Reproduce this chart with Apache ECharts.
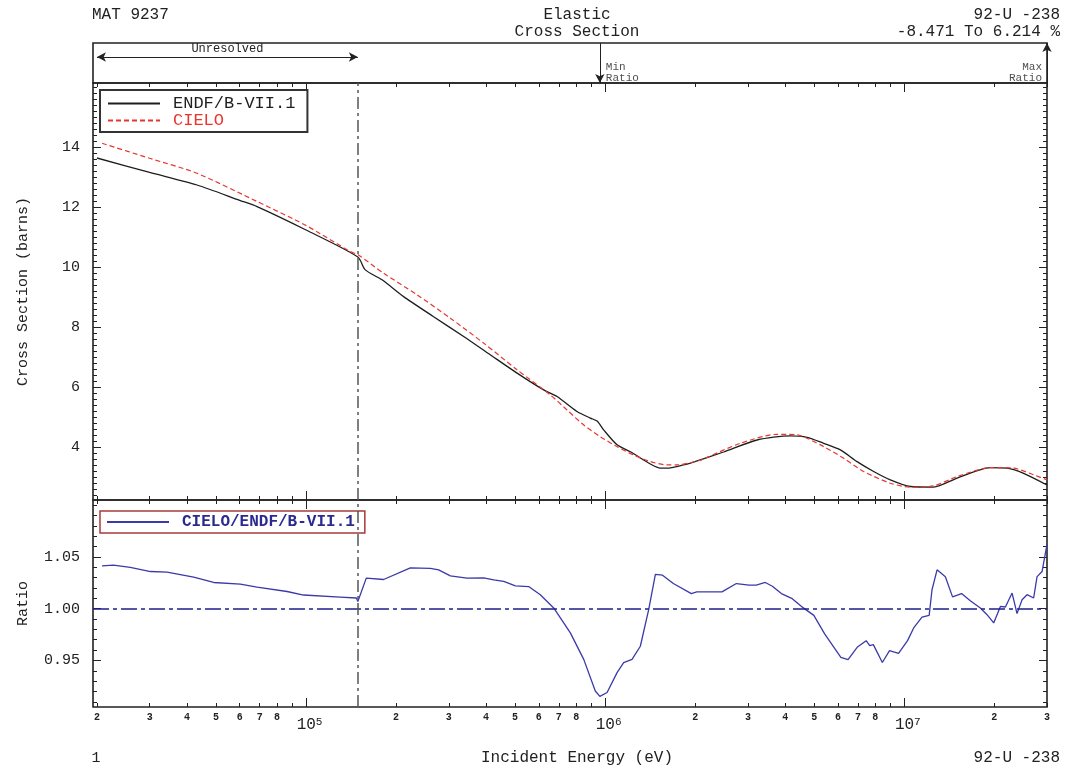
<!DOCTYPE html>
<html><head><meta charset="utf-8">
<script src="https://cdn.jsdelivr.net/npm/echarts@6/dist/echarts.min.js"></script>
<style>html,body{margin:0;padding:0;background:#fff}#c{width:1065px;height:770px}</style>
</head><body><div id="c"></div>
<script>
// ---------------- data ----------------
const ENDF_E  = [2.0e4, 3.0e4, 4.32e4, 6.0e4, 6.86e4, 1.0e5, 1.49e5, 1.578e5, 1.795e5, 2.12e5, 2.67e5, 3.365e5, 4.13e5, 5.076e5, 6.23e5, 6.905e5, 8.05e5, 8.92e5, 9.4e5, 9.88e5, 1.096e6, 1.214e6, 1.416e6, 1.529e6, 1.61e6, 1.83e6, 1.927e6, 2.489e6, 3.22e6, 4.16e6, 4.73e6, 5.377e6, 6.114e6, 6.953e6, 7.9e6, 8.98e6, 1.048e7, 1.254e7, 1.502e7, 1.94e7, 2.206e7, 2.506e7, 3.0e7];
const ENDF_XS = [13.63, 13.15, 12.73, 12.22, 12.01, 11.23, 10.33, 9.9, 9.57, 9.01, 8.34, 7.68, 7.07, 6.46, 5.9, 5.68, 5.18, 4.96, 4.86, 4.57, 4.07, 3.84, 3.43, 3.29, 3.29, 3.4, 3.46, 3.83, 4.23, 4.37, 4.32, 4.12, 3.9, 3.51, 3.18, 2.9, 2.68, 2.66, 2.96, 3.31, 3.29, 3.12, 2.73];

const CIELO_E  = [2.08e4, 3.0e4, 4.32e4, 6.86e4, 1.0e5, 1.407e5, 1.49e5, 1.817e5, 2.35e5, 3.037e5, 3.925e5, 5.076e5, 6.56e5, 7.46e5, 8.48e5, 9.63e5, 1.096e6, 1.245e6, 1.416e6, 1.61e6, 1.74e6, 2.102e6, 2.19e6, 2.83e6, 3.755e6, 4.38e6, 5.377e6, 6.272e6, 7.314e6, 8.98e6, 1.048e7, 1.254e7, 1.502e7, 1.94e7, 2.321e7, 2.707e7, 3.0e7];
const CIELO_XS = [14.12, 13.62, 13.12, 12.18, 11.38, 10.51, 10.41, 9.79, 9.07, 8.29, 7.46, 6.57, 5.73, 5.23, 4.73, 4.34, 4.01, 3.73, 3.51, 3.4, 3.4, 3.57, 3.65, 4.12, 4.42, 4.40, 4.01, 3.62, 3.18, 2.79, 2.66, 2.70, 3.01, 3.31, 3.29, 3.07, 2.90];

const RATIO_E = [2.08e4, 2.27e4, 2.585e4, 3.02e4, 3.43e4, 4.21e4, 4.91e4, 6.03e4, 6.86e4, 8.64e4, 9.81e4, 1.30e5, 1.473e5, 1.49e5, 1.59e5, 1.817e5, 2.232e5, 2.603e5, 2.776e5, 3.037e5, 3.453e5, 3.925e5, 4.24e5, 4.58e5, 5.01e5, 5.55e5, 6.07e5, 6.73e5, 7.65e5, 8.48e5, 9.27e5, 9.6e5, 1.015e6, 1.096e6, 1.153e6, 1.23e6, 1.311e6, 1.398e6, 1.472e6, 1.555e6, 1.69e6, 1.942e6, 2.024e6, 2.458e6, 2.746e6, 3.027e6, 3.2e6, 3.43e6, 3.623e6, 3.882e6, 4.222e6, 4.587e6, 4.985e6, 5.417e6, 6.137e6, 6.486e6, 6.957e6, 7.456e6, 7.666e6, 7.88e6, 8.446e6, 8.926e6, 9.568e6, 1.0254e7, 1.075e7, 1.146e7, 1.211e7, 1.238e7, 1.287e7, 1.372e7, 1.45e7, 1.554e7, 1.666e7, 1.796e7, 1.891e7, 1.99e7, 2.096e7, 2.178e7, 2.293e7, 2.382e7, 2.476e7, 2.573e7, 2.707e7, 2.779e7, 2.888e7, 3.0e7];
const RATIO_V = [1.0413, 1.042, 1.040, 1.0359, 1.0353, 1.0305, 1.0253, 1.0237, 1.0209, 1.0166, 1.0132, 1.0112, 1.0103, 1.007, 1.0295, 1.0282, 1.0394, 1.039, 1.0375, 1.0317, 1.0295, 1.0298, 1.0279, 1.0263, 1.0221, 1.0214, 1.0135, 1.0007, 0.9766, 0.951, 0.9205, 0.9153, 0.919, 0.9382, 0.9478, 0.951, 0.9637, 0.999, 1.0331, 1.0324, 1.0243, 1.0146, 1.0162, 1.0162, 1.0243, 1.0227, 1.0227, 1.0253, 1.0217, 1.0146, 1.0097, 1.001, 0.9935, 0.9757, 0.953, 0.9507, 0.9627, 0.9691, 0.9643, 0.9653, 0.948, 0.9594, 0.9568, 0.9691, 0.9814, 0.9919, 0.9935, 1.0183, 1.0375, 1.0308, 1.0114, 1.0146, 1.0074, 1.0007, 0.9942, 0.9862, 1.0022, 1.0016, 1.0151, 0.9952, 1.0087, 1.0135, 1.0103, 1.031, 1.0359, 1.0621];

const URR_RANGE = [2.0e4, 1.49e5];          // unresolved resonance range (eV)
const RATIO_REF = 1.0;

// tick labels
const X_DECADES = [4, 5, 6, 7];
const X_TICK_MANTISSAS = [1, 2, 3, 4, 5, 6, 7, 8, 9];
const X_LABEL_MANTISSAS = [2, 3, 4, 5, 6, 7, 8];
const XS_LABELS = [4, 6, 8, 10, 12, 14];
const RATIO_LABELS = [0.95, 1.00, 1.05];

// texts
const SERIES_NAMES = ['ENDF/B-VII.1', 'CIELO', 'CIELO/ENDF/B-VII.1'];
const TXT_MAT = 'MAT 9237';
const TXT_TITLE = ['Elastic', 'Cross Section'];
const TXT_NUCLIDE = '92-U -238';
const TXT_RANGE = '-8.471 To 6.214 %';
const TXT_XNAME = 'Incident Energy (eV)';
const TXT_YNAME = 'Cross Section (barns)';
const TXT_RNAME = 'Ratio';
const TXT_PAGE = '1';
const TXT_UNRES = 'Unresolved';
const TXT_MIN = 'Min\nRatio';
const TXT_MAX = 'Max\nRatio';

// ---------------- layout / style ----------------
const X_MIN = 1.94e4, X_MAX = 3.0e7;
const XS_MIN = 2.23, XS_MAX = 16.13;
const R_MIN = 0.905, R_MAX = 1.105;
const MONO = "'Liberation Mono', 'DejaVu Sans Mono', monospace";
const FRAME = '#222';
const C_ENDF = '#1e1e1e', C_CIELO = '#e8352e', C_RATIO = '#3a3aa8';
const DASHDOT = [12, 4, 3, 4];

const zip = (a, b) => a.map((v, i) => [v, b[i]]);

// tick value lists built from the label arrays
const inX = v => v >= X_MIN && v <= X_MAX * 1.0000001;
const xMinor = [], xMajor = [], xDigitLabels = [];
X_DECADES.forEach(k => {
  const p = Math.pow(10, k);
  X_TICK_MANTISSAS.forEach(m => { const v = m * p; if (!inX(v)) return; (m === 1 ? xMajor : xMinor).push(v); });
  X_LABEL_MANTISSAS.forEach(m => { const v = m * p; if (inX(v)) xDigitLabels.push(v); });
});
const yMinor = [];
for (let i = Math.ceil(XS_MIN / 0.2); i * 0.2 <= XS_MAX; i++) yMinor.push(+(i * 0.2).toFixed(1));
const rMinor = [];
for (let i = Math.ceil(R_MIN / 0.01); i * 0.01 <= R_MAX; i++) rMinor.push(+(i * 0.01).toFixed(2));

let iMin = 0, iMax = 0;
RATIO_V.forEach((v, i) => { if (v < RATIO_V[iMin]) iMin = i; if (v > RATIO_V[iMax]) iMax = i; });
const E_MIN_RATIO = RATIO_E[iMin], E_MAX_RATIO = RATIO_E[iMax];

// ---------------- axes ----------------
function xAx(grid, pos, tick, label) {
  return {
    type: 'log', logBase: 10, gridIndex: grid, position: pos, min: X_MIN, max: X_MAX,
    axisLine: { show: false, onZero: false }, splitLine: { show: false },
    minorTick: { show: false }, minorSplitLine: { show: false },
    axisTick: tick ? Object.assign({ show: true, inside: true, lineStyle: { color: FRAME, width: 1 } }, tick) : { show: false },
    axisLabel: label ? label : { show: false },
    axisPointer: { show: false }, silent: true
  };
}
function yAx(grid, pos, min, max, tick, label, name) {
  const a = {
    type: 'value', gridIndex: grid, position: pos, min: min, max: max,
    axisLine: { show: false, onZero: false }, splitLine: { show: false },
    minorTick: { show: false }, minorSplitLine: { show: false },
    axisTick: tick ? Object.assign({ show: true, inside: true, lineStyle: { color: FRAME, width: 1 } }, tick) : { show: false },
    axisLabel: label ? label : { show: false },
    axisPointer: { show: false }, silent: true
  };
  if (name) Object.assign(a, {
    name: name, nameLocation: 'middle', nameGap: 62, nameRotate: 90,
    nameTextStyle: { fontFamily: MONO, fontSize: 15, color: FRAME }
  });
  return a;
}
const digitLabel = {
  show: true, customValues: xDigitLabels, margin: 4, hideOverlap: false,
  formatter: v => String(Math.round(v / Math.pow(10, Math.floor(Math.log10(v) + 1e-9)))),
  fontFamily: MONO, fontSize: 10, fontWeight: 'bold', color: FRAME, lineHeight: 12
};
const decadeLabel = {
  show: true, customValues: xMajor, margin: 10, hideOverlap: false,
  formatter: v => '{p|10}{s|' + Math.round(Math.log10(v)) + '}',
  rich: {
    p: { fontFamily: MONO, fontSize: 16, lineHeight: 16, color: FRAME, padding: [5, 0, 0, 7], verticalAlign: 'bottom' },
    s: { fontFamily: MONO, fontSize: 11, lineHeight: 11, color: FRAME, verticalAlign: 'top' }
  }
};
const yLabel = (vals, fmt) => ({
  show: true, customValues: vals, margin: 13, hideOverlap: false,
  formatter: fmt, fontFamily: MONO, fontSize: 15, color: FRAME
});

const xAxes = [
  Object.assign(xAx(0, 'bottom', null, null), { show: false }),
  xAx(1, 'bottom', { length: 4, customValues: xMinor }),
  xAx(1, 'top', { length: 4, customValues: xMinor }),
  xAx(1, 'bottom', { length: 9, customValues: xMajor }),
  xAx(1, 'top', { length: 9, customValues: xMajor }),
  xAx(2, 'bottom', { length: 4, customValues: xMinor }, digitLabel),
  xAx(2, 'top', { length: 4, customValues: xMinor }),
  xAx(2, 'bottom', { length: 9, customValues: xMajor }, decadeLabel),
  xAx(2, 'top', { length: 9, customValues: xMajor })
];
const yAxes = [
  { type: 'value', gridIndex: 0, min: 0, max: 1, show: false },
  yAx(1, 'left', XS_MIN, XS_MAX, { length: 8, customValues: XS_LABELS }, yLabel(XS_LABELS, v => String(v)), TXT_YNAME),
  yAx(1, 'left', XS_MIN, XS_MAX, { length: 4, customValues: yMinor }),
  yAx(1, 'right', XS_MIN, XS_MAX, { length: 8, customValues: XS_LABELS }),
  yAx(1, 'right', XS_MIN, XS_MAX, { length: 4, customValues: yMinor }),
  yAx(2, 'left', R_MIN, R_MAX, { length: 8, customValues: RATIO_LABELS }, yLabel(RATIO_LABELS, v => v.toFixed(2)), TXT_RNAME),
  yAx(2, 'left', R_MIN, R_MAX, { length: 4, customValues: rMinor }),
  yAx(2, 'right', R_MIN, R_MAX, { length: 8, customValues: RATIO_LABELS }),
  yAx(2, 'right', R_MIN, R_MAX, { length: 4, customValues: rMinor })
];

const gridBase = { left: 93, right: 18, show: true, borderColor: FRAME, borderWidth: 1.6, backgroundColor: 'transparent', containLabel: false, outerBoundsMode: 'none' };
const grids = [
  Object.assign({ top: 43, height: 40 }, gridBase),
  Object.assign({ top: 83, height: 417 }, gridBase),
  Object.assign({ top: 500, height: 207 }, gridBase)
];

const annoLabel = { fontFamily: MONO, fontSize: 11, lineHeight: 11, color: FRAME };

const option = {
  animation: false,
  backgroundColor: '#fff',
  grid: grids,
  xAxis: xAxes,
  yAxis: yAxes,
  legend: [
    {
      data: [{ name: SERIES_NAMES[0], textStyle: { color: C_ENDF } }, { name: SERIES_NAMES[1], textStyle: { color: C_CIELO } }],
      orient: 'vertical', left: 100, top: 90, itemWidth: 52, itemHeight: 10, itemGap: 0,
      padding: [5, 12, 3, 7], borderColor: '#333', borderWidth: 2, borderRadius: 0, backgroundColor: '#fff',
      selectedMode: false, itemStyle: { opacity: 0 },
      textStyle: { fontFamily: MONO, fontSize: 17, lineHeight: 17, padding: [0, 0, 0, 8] }
    },
    {
      data: [{ name: SERIES_NAMES[2] }],
      orient: 'horizontal', left: 100, top: 511, itemWidth: 62, itemHeight: 10,
      padding: [2, 10, 2, 6], borderColor: '#a83a3a', borderWidth: 1.5, borderRadius: 0, backgroundColor: 'transparent',
      selectedMode: false, itemStyle: { opacity: 0 },
      textStyle: { fontFamily: MONO, fontSize: 16, lineHeight: 18, fontWeight: 'bold', color: '#2a2a90', padding: [0, 0, 0, 8] }
    }
  ],
  series: [
    {
      name: SERIES_NAMES[0], type: 'line', xAxisIndex: 1, yAxisIndex: 1, data: zip(ENDF_E, ENDF_XS),
      symbol: 'none', showSymbol: false, smooth: 0.25, z: 3,
      lineStyle: { color: C_ENDF, width: 1.3 }, itemStyle: { color: C_ENDF },
      markLine: {
        silent: true, symbol: 'none', label: { show: false },
        lineStyle: { color: '#555', width: 1.5, type: DASHDOT },
        data: [{ xAxis: URR_RANGE[1] }]
      }
    },
    {
      name: SERIES_NAMES[1], type: 'line', xAxisIndex: 1, yAxisIndex: 1, data: zip(CIELO_E, CIELO_XS),
      symbol: 'none', showSymbol: false, smooth: 0.25, z: 4,
      lineStyle: { color: C_CIELO, width: 1.2, type: [5, 3] }, itemStyle: { color: C_CIELO }
    },
    {
      name: SERIES_NAMES[2], type: 'line', xAxisIndex: 5, yAxisIndex: 5, data: zip(RATIO_E, RATIO_V),
      symbol: 'none', showSymbol: false, z: 4,
      lineStyle: { color: C_RATIO, width: 1.3 }, itemStyle: { color: C_RATIO },
      markLine: {
        silent: true, symbol: 'none', label: { show: false },
        data: [
          { yAxis: RATIO_REF, lineStyle: { color: '#1f1f8a', width: 1.5, type: [16, 4, 4, 4] } },
          { xAxis: URR_RANGE[1], lineStyle: { color: '#555', width: 1.5, type: DASHDOT } }
        ]
      }
    },
    {
      type: 'scatter', xAxisIndex: 0, yAxisIndex: 0, symbolSize: 0, silent: true, z: 5,
      data: [
        { value: [E_MIN_RATIO, 0.27], label: { show: true, position: 'right', distance: 6, formatter: TXT_MIN, align: 'left', ...annoLabel } },
        { value: [E_MAX_RATIO, 0.27], label: { show: true, position: 'left', distance: 5, formatter: TXT_MAX, align: 'right', ...annoLabel } }
      ],
      markLine: {
        silent: true, symbolSize: [7, 9],
        lineStyle: { color: FRAME, width: 1, type: 'solid' },
        label: { show: false },
        data: [
          [
            { coord: [URR_RANGE[0], 0.65], symbol: 'arrow', label: { show: true, position: 'insideMiddleTop', distance: 2, formatter: TXT_UNRES, fontFamily: MONO, fontSize: 12, color: FRAME } },
            { coord: [URR_RANGE[1], 0.65], symbol: 'arrow' }
          ],
          [
            { coord: [E_MIN_RATIO, 1], symbol: 'none' },
            { coord: [E_MIN_RATIO, 0], symbol: 'arrow' }
          ],
          [
            { coord: [E_MAX_RATIO, 0], symbol: 'none' },
            { coord: [E_MAX_RATIO, 1], symbol: 'arrow' }
          ]
        ]
      }
    }
  ],
  graphic: [
    { type: 'text', x: 92, y: 15, style: { text: TXT_MAT, fontFamily: MONO, fontSize: 16, fill: FRAME, align: 'left', verticalAlign: 'middle', textAlign: 'left', textVerticalAlign: 'middle' } },
    { type: 'text', x: 577, y: 15, style: { text: TXT_TITLE[0], fontFamily: MONO, fontSize: 16, fill: FRAME, align: 'center', verticalAlign: 'middle', textAlign: 'center', textVerticalAlign: 'middle' } },
    { type: 'text', x: 577, y: 32, style: { text: TXT_TITLE[1], fontFamily: MONO, fontSize: 16, fill: FRAME, align: 'center', verticalAlign: 'middle', textAlign: 'center', textVerticalAlign: 'middle' } },
    { type: 'text', x: 1060, y: 15, style: { text: TXT_NUCLIDE, fontFamily: MONO, fontSize: 16, fill: FRAME, align: 'right', verticalAlign: 'middle', textAlign: 'right', textVerticalAlign: 'middle' } },
    { type: 'text', x: 1060, y: 32, style: { text: TXT_RANGE, fontFamily: MONO, fontSize: 16, fill: FRAME, align: 'right', verticalAlign: 'middle', textAlign: 'right', textVerticalAlign: 'middle' } },
    { type: 'text', x: 96, y: 758, style: { text: TXT_PAGE, fontFamily: MONO, fontSize: 15, fill: FRAME, align: 'center', verticalAlign: 'middle', textAlign: 'center', textVerticalAlign: 'middle' } },
    { type: 'text', x: 577, y: 758, style: { text: TXT_XNAME, fontFamily: MONO, fontSize: 16, fill: FRAME, align: 'center', verticalAlign: 'middle', textAlign: 'center', textVerticalAlign: 'middle' } },
    { type: 'text', x: 1060, y: 758, style: { text: TXT_NUCLIDE, fontFamily: MONO, fontSize: 16, fill: FRAME, align: 'right', verticalAlign: 'middle', textAlign: 'right', textVerticalAlign: 'middle' } }
  ]
};

const chart = echarts.init(document.getElementById('c'), null, { renderer: 'canvas' });
chart.setOption(option);
</script>
</body></html>
